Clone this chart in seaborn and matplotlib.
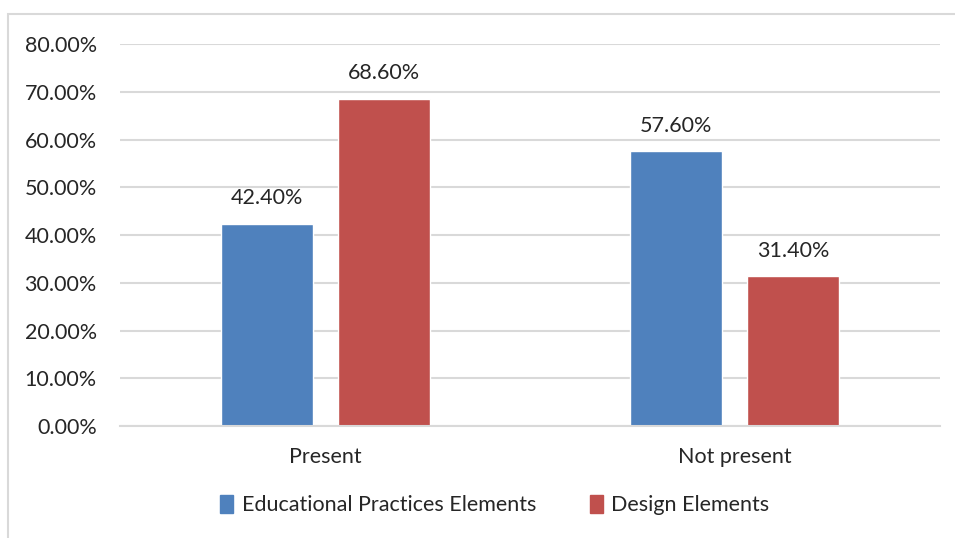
import matplotlib
matplotlib.use("Agg")
import matplotlib.pyplot as plt
import matplotlib.patches as mpatches
from matplotlib.ticker import FuncFormatter
import pandas as pd
import seaborn as sns

categories = ["Present", "Not present"]
series = ["Educational Practices Elements", "Design Elements"]
educational = [42.40, 57.60]
design = [68.60, 31.40]
colors = ["#4F81BD", "#C0504D"]

df = pd.DataFrame({
    "category": categories * 2,
    "series": [series[0]] * 2 + [series[1]] * 2,
    "value": educational + design,
})

sns.set_theme(style="white")
plt.rcParams["font.family"] = ["Lato", "DejaVu Sans"]

fig = plt.figure(figsize=(9.55, 5.38), dpi=100)
ax = fig.add_axes([0.126, 0.208, 0.858, 0.71])

sns.barplot(data=df, x="category", y="value", hue="series", order=categories,
            hue_order=series, palette=colors, width=0.571, gap=0.214,
            saturation=1, legend=False, ax=ax)

for cont in ax.containers:
    ax.bar_label(cont, labels=[f"{v:.2f}%" for v in cont.datavalues],
                 padding=11, fontsize=15.5, color="#262626")

ax.set_xlim(-0.5, 1.5)
ax.set_ylim(0, 80)
ax.set_yticks(range(0, 81, 10))
ax.yaxis.set_major_formatter(FuncFormatter(lambda v, _: f"{v:.2f}%"))
ax.grid(axis="y", color="#D9D9D9", linewidth=1.5)
ax.set_axisbelow(True)
for s in ["top", "right", "left"]:
    ax.spines[s].set_visible(False)
ax.spines["bottom"].set_color("#D9D9D9")
ax.spines["bottom"].set_linewidth(1.5)
ax.tick_params(axis="both", length=0, labelsize=15.5, colors="#262626")
ax.tick_params(axis="y", pad=17)
ax.tick_params(axis="x", pad=15)
ax.set_xlabel("")
ax.set_ylabel("")

handles = [mpatches.Patch(color=c, label=l) for c, l in zip(colors, series)]
fig.legend(handles=handles, loc="center", bbox_to_anchor=(0.518, 0.061), ncol=2,
           frameon=False, fontsize=15.5, handlelength=0.6, handleheight=0.9,
           handletextpad=0.4, columnspacing=2.5, labelcolor="#262626")

# chart border (left and top edges visible)
fig.patches.append(mpatches.Rectangle((8 / 955, -0.1), 1.2, 1 - 14 / 538 + 0.1,
                                      transform=fig.transFigure, fill=False,
                                      edgecolor="#D9D9D9", linewidth=1.5))

fig.savefig("out.png", dpi=100)
